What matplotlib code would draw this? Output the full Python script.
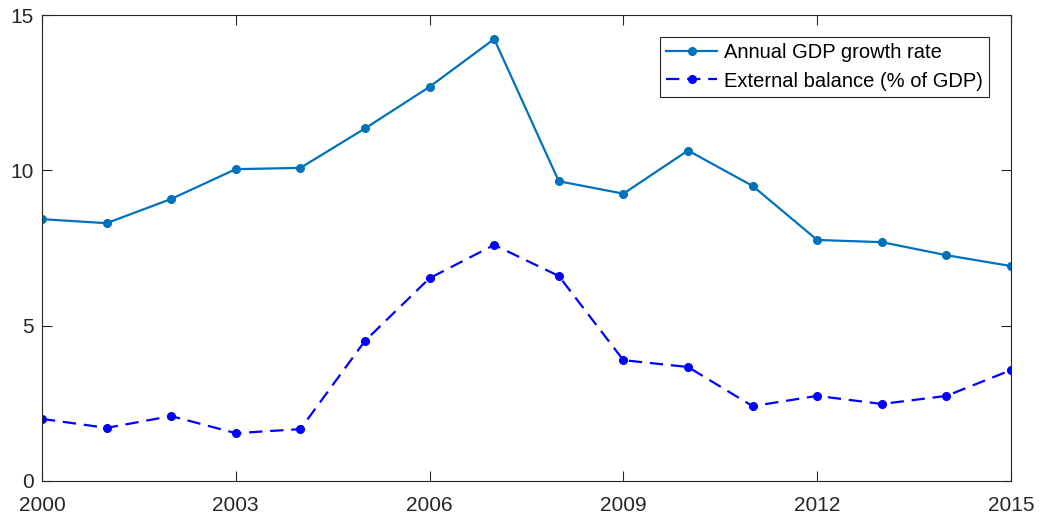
import matplotlib
matplotlib.use("Agg")
import matplotlib.pyplot as plt

years = [2000, 2001, 2002, 2003, 2004, 2005, 2006, 2007,
         2008, 2009, 2010, 2011, 2012, 2013, 2014, 2015]
gdp_growth = [8.43, 8.30, 9.08, 10.04, 10.08, 11.35, 12.69, 14.23,
              9.65, 9.25, 10.64, 9.50, 7.76, 7.69, 7.27, 6.92]
external_balance = [2.00, 1.71, 2.09, 1.54, 1.67, 4.51, 6.53, 7.60,
                    6.60, 3.89, 3.67, 2.41, 2.74, 2.48, 2.74, 3.57]
x_ticks = [2000, 2003, 2006, 2009, 2012, 2015]
y_ticks = [0, 5, 10, 15]

plt.rcParams['font.family'] = ['Liberation Sans', 'DejaVu Sans']
axis_color = '#262626'

fig = plt.figure(figsize=(10.41, 5.20), dpi=100)
ax = fig.add_axes([0.0403, 0.075, 0.9309, 0.896])

ax.plot(years, gdp_growth, '-', color='#0072BD', lw=1.6, marker='o',
        markersize=5.5, label='Annual GDP growth rate')
ax.plot(years, external_balance, color='#0000FF', lw=1.6, marker='o',
        markersize=5.5, linestyle=(0, (6, 3.5)),
        label='External balance (% of GDP)')

ax.set_xlim(2000, 2015)
ax.set_ylim(0, 15)
ax.set_xticks(x_ticks)
ax.set_yticks(y_ticks)
ax.tick_params(direction='in', length=7, width=0.8, colors=axis_color,
               labelsize=15, top=True, right=True)
ax.tick_params(axis='x', pad=11)
ax.tick_params(axis='y', pad=6)
for s in ax.spines.values():
    s.set_color(axis_color)
    s.set_linewidth(0.8)

leg = ax.legend(loc='upper right', fontsize=14.5, frameon=True, fancybox=False,
                edgecolor=axis_color, framealpha=1, borderpad=0.3,
                handlelength=2.5, handletextpad=0.35, labelspacing=0.45,
                borderaxespad=0, bbox_to_anchor=(0.977, 0.952))
leg.get_frame().set_linewidth(0.8)

fig.savefig('out.png', dpi=100)
